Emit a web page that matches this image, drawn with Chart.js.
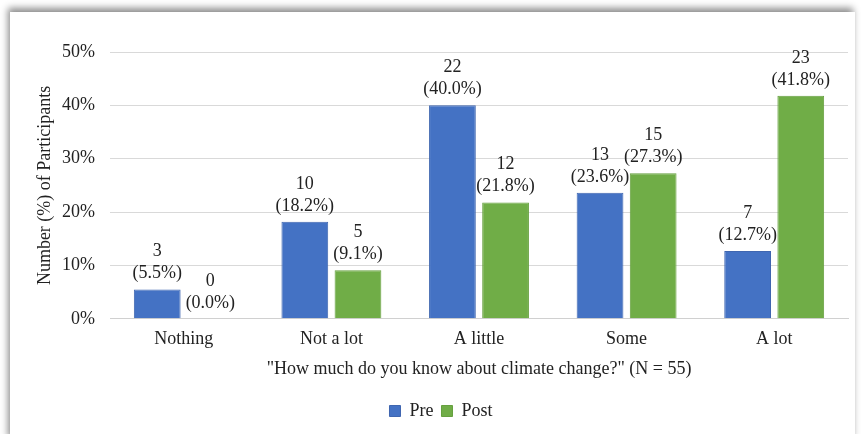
<!DOCTYPE html>
<html>
<head>
<meta charset="utf-8">
<script src="https://cdn.jsdelivr.net/npm/chart.js@4.4.1/dist/chart.umd.min.js"></script>
<style>
  body { margin: 0; background: #fff; overflow: hidden; }
  #frame { position: absolute; left: 10px; top: 12px; width: 845px; height: 430px; background: #fff;
           box-shadow: -2px -4px 7px rgba(0,0,0,0.45); }
  #wrap { position: absolute; left: 0; top: 0; width: 861px; height: 434px; }
</style>
</head>
<body>
<div id="frame"></div>
<div id="wrap"><canvas id="chart" width="861" height="434"></canvas></div>
<script>
const categories = ['Nothing', 'Not a lot', 'A little', 'Some', 'A lot'];
const preCounts = [3, 10, 22, 13, 7];
const postCounts = [0, 5, 12, 15, 23];
const prePct = [5.5, 18.2, 40.0, 23.6, 12.7];
const postPct = [0.0, 9.1, 21.8, 27.3, 41.8];
const yTicks = [0, 10, 20, 30, 40, 50];

const counts = [preCounts, postCounts];
const serif = '"Liberation Serif", "DejaVu Serif", serif';
const ink = '#222';

// draws "count" over "(pct%)" above each bar
const barLabels = {
    id: 'barLabels',
    afterDatasetsDraw(chart) {
        const ctx = chart.ctx;
        ctx.save();
        ctx.font = '18px ' + serif;
        ctx.fillStyle = ink;
        ctx.textAlign = 'center';
        ctx.textBaseline = 'alphabetic';
        chart.data.datasets.forEach((ds, i) => {
            chart.getDatasetMeta(i).data.forEach((bar, j) => {
                const y = bar.y - 11;
                ctx.fillText('(' + ds.data[j].toFixed(1) + '%)', bar.x, y);
                ctx.fillText(String(counts[i][j]), bar.x, y - 22);
            });
        });
        ctx.restore();
    }
};

new Chart(document.getElementById('chart'), {
    type: 'bar',
    data: {
        labels: categories,
        datasets: [
            { label: 'Pre', data: prePct, backgroundColor: '#4472C4', borderColor: '#3f66b0', borderWidth: 1,
              categoryPercentage: 0.72, barPercentage: 0.88 },
            { label: 'Post', data: postPct, backgroundColor: '#70AD47', borderColor: '#66a03f', borderWidth: 1,
              categoryPercentage: 0.72, barPercentage: 0.88 }
        ]
    },
    options: {
        responsive: false,
        animation: false,
        layout: { padding: { left: 34, right: 13, top: 52, bottom: 4 } },
        plugins: {
            legend: {
                position: 'bottom',
                labels: { font: { family: serif, size: 18 }, color: ink, boxWidth: 11, boxHeight: 11, padding: 8 }
            },
            tooltip: { enabled: false }
        },
        scales: {
            x: {
                grid: { display: false },
                border: { color: '#d0d0d0' },
                ticks: { font: { family: serif, size: 18 }, color: ink, padding: 2 },
                title: { display: true, text: '"How much do you know about climate change?" (N = 55)',
                         font: { family: serif, size: 18 }, color: ink, padding: { top: 6, bottom: 14 } }
            },
            y: {
                min: 0, max: 50,
                afterBuildTicks: s => { s.ticks = yTicks.map(v => ({ value: v })); },
                afterFit: s => { s.width = 76; },
                grid: { color: '#d9d9d9', drawTicks: false },
                border: { display: false },
                ticks: { font: { family: serif, size: 18 }, color: ink, padding: 15, callback: v => v + '%' },
                title: { display: true, text: 'Number (%) of Participants', font: { family: serif, size: 18 }, color: ink, padding: 0 }
            }
        }
    },
    plugins: [barLabels]
});
</script>
</body>
</html>
